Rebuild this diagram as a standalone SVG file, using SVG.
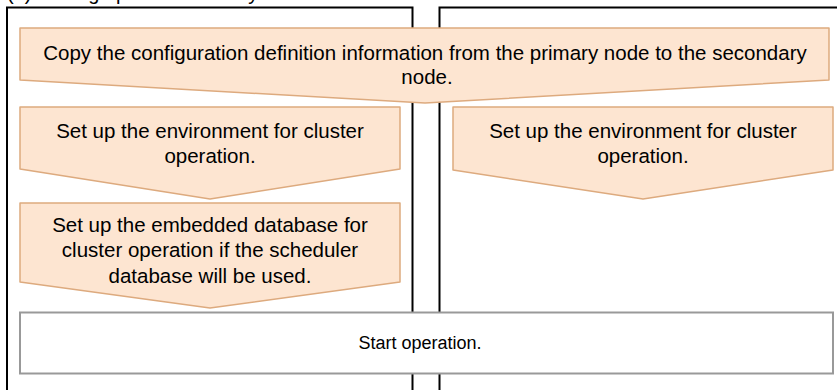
<svg xmlns="http://www.w3.org/2000/svg" width="837" height="390" viewBox="0 0 837 390">
  <style>
    .lane { fill: none; stroke: #000; stroke-width: 2; }
    .step { fill: #FDE5D1; stroke: #DDAA7E; stroke-width: 1.5; stroke-linejoin: round; }
    .plain { fill: #fff; stroke: #999; stroke-width: 2; }
    text { font-family: "Liberation Sans", Arial, sans-serif; font-size: 20.5px; fill: #000; text-anchor: middle; }
    .title { text-anchor: start; font-size: 20px; }
    .small { font-size: 18px; }
  </style>

  <!-- heading, mostly above the top edge -->
  <text class="title" x="7" y="0">(b) Setting up the secondary</text>

  <!-- swimlanes: primary (left) and secondary (right) -->
  <g id="lanes">
    <path class="lane" d="M7,392 V7.5 H412.5 V392"/>
    <path class="lane" d="M439.5,392 V7.5 H840"/>
  </g>

  <g id="connectors"></g>

  <g id="copy-definition">
    <polygon class="step" points="20,28 829,28 829,80 425,103 20,80"/>
    <text x="425" y="60">Copy the configuration definition information from the primary node to the secondary</text>
    <text x="427" y="84">node.</text>
  </g>

  <g id="env-primary">
    <polygon class="step" points="20,107 400,107 400,169 210,199 20,169"/>
    <text x="210" y="138">Set up the environment for cluster</text>
    <text x="210" y="163">operation.</text>
  </g>

  <g id="env-secondary">
    <polygon class="step" points="453,107 833,107 833,170 643,199 453,170"/>
    <text x="643" y="138">Set up the environment for cluster</text>
    <text x="643" y="163">operation.</text>
  </g>

  <g id="embedded-db">
    <polygon class="step" points="20,203 400,203 400,282 210,308 20,282"/>
    <text x="210" y="232">Set up the embedded database for</text>
    <text x="210" y="257">cluster operation if the scheduler</text>
    <text x="210" y="283">database will be used.</text>
  </g>

  <g id="start-operation">
    <rect class="plain" x="20" y="312.5" width="813" height="61"/>
    <text class="small" x="420" y="349">Start operation.</text>
  </g>
</svg>
